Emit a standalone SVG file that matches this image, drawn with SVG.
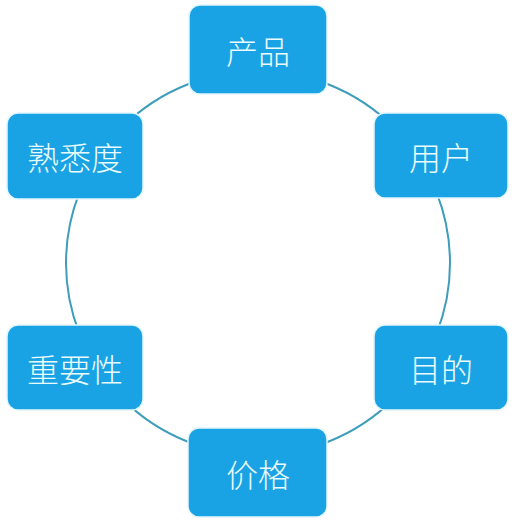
<svg xmlns="http://www.w3.org/2000/svg" width="517" height="524" viewBox="0 0 517 524">
<style>
.box{fill:#19a3e5;stroke:#e3f6fd;stroke-width:1.5}
.lbl{font-family:"Noto Sans CJK SC","Noto Sans",sans-serif;font-size:32px;font-weight:300;fill:#eafbfc;text-anchor:middle;dominant-baseline:central}
.ring{fill:none;stroke:#3d9dbb;stroke-width:2}
</style>
<rect width="517" height="524" fill="#ffffff"/>
<g id="connectors">
<circle class="ring" cx="258" cy="263" r="192"/>
</g>
<g id="node-chanpin">
<rect class="box" x="189" y="5" width="138" height="89" rx="11"/>
<text class="lbl" x="258" y="50">产品</text>
</g>
<g id="node-yonghu">
<rect class="box" x="374" y="113" width="134" height="85" rx="11"/>
<text class="lbl" x="441" y="156">用户</text>
</g>
<g id="node-mudi">
<rect class="box" x="374" y="325" width="134" height="85" rx="11"/>
<text class="lbl" x="441" y="368">目的</text>
</g>
<g id="node-jiage">
<rect class="box" x="188" y="428" width="139" height="89" rx="11"/>
<text class="lbl" x="258" y="473">价格</text>
</g>
<g id="node-zhongyaoxing">
<rect class="box" x="7" y="325" width="136" height="85" rx="11"/>
<text class="lbl" x="75" y="368">重要性</text>
</g>
<g id="node-shuxidu">
<rect class="box" x="7" y="113" width="136" height="86" rx="11"/>
<text class="lbl" x="75" y="156">熟悉度</text>
</g>
</svg>
